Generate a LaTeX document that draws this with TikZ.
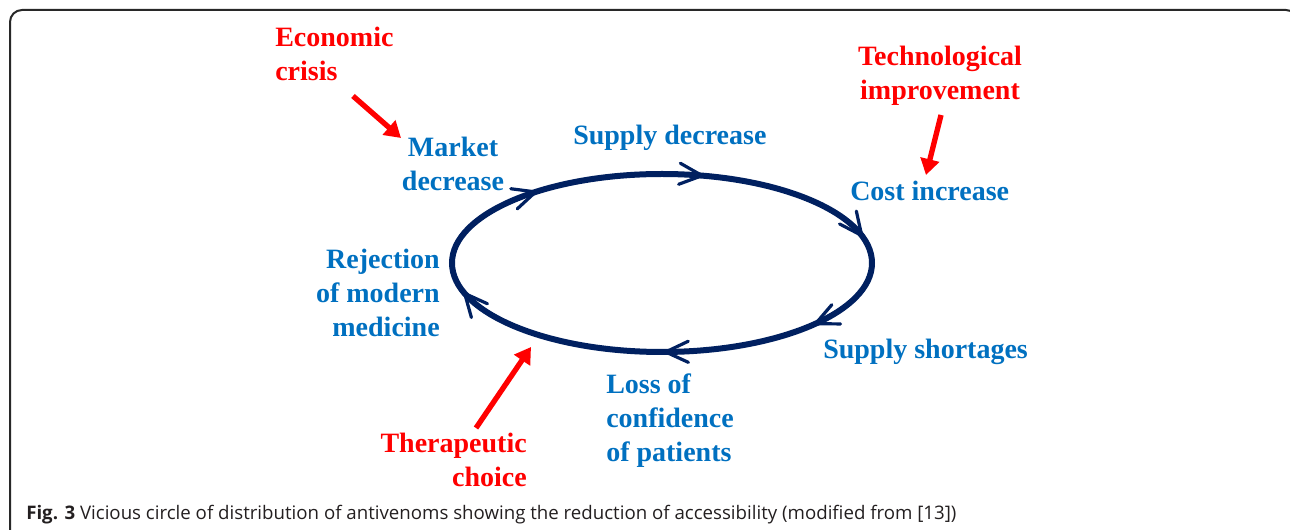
\documentclass[tikz,border=0pt]{standalone}
\usepackage{fontspec}
\setmainfont{Liberation Serif}
\newfontfamily\capfont{Open Sans}
\usetikzlibrary{arrows.meta,calc}
\definecolor{tblue}{RGB}{0,112,192}
\definecolor{tred}{RGB}{255,0,0}
\definecolor{navy}{RGB}{0,32,96}
\definecolor{frame}{RGB}{40,40,40}
\definecolor{captxt}{RGB}{35,31,32}
\tikzset{
  lbl/.style={inner sep=0pt, font=\bfseries\fontsize{21pt}{25.5pt}\selectfont},
  bluelbl/.style={lbl, text=tblue},
  redlbl/.style={lbl, text=tred},
  cause/.style={draw=tred, line width=4pt, -{Triangle[length=12pt,width=14pt]}},
  loopline/.style={draw=navy, line width=4.5pt},
  chev/.style={draw=navy, line width=2.4pt, line cap=round, line join=miter},
}
\newcommand{\chevat}[2]{%
  \path (E) ++({210*cos(#1)},{89*sin(#1)}) coordinate (#2);
  \pgfmathsetmacro{\dd}{atan2(-89*cos(#1),210*sin(#1))}
  \draw[chev] ($(#2)+(\dd+155:25)$) -- (#2) -- ($(#2)+(\dd-155:25)$);}
\begin{document}
\begin{tikzpicture}[x=0.75pt,y=-0.75pt]
\useasboundingbox (0,0) rectangle (1290,530);
% frame
\draw[frame, line width=1.5pt, rounded corners=9pt] (10,540) -- (10,10) -- (1298,10) -- (1298,540);
% caption
\node[anchor=base west, inner sep=0pt, text=captxt, font=\capfont\fontsize{14pt}{17pt}\selectfont] (cap) at (26,520)
  {\textbf{Fig. 3} Vicious circle of distribution of antivenoms showing the reduction of accessibility (modified from [13])};
% cycle
\begin{scope}[y=0.75pt]
\coordinate (E) at (662,-263);
\draw[loopline] (E) ellipse[x radius=210, y radius=89];
\chevat{127}{c1}
\chevat{79}{c2}
\chevat{18}{c3}
\chevat{-43}{c4}
\chevat{-89}{c5}
\chevat{-160}{c6}
\end{scope}
% labels
\node[redlbl, anchor=base west, align=left] (econ) at (275,81) {Economic\\crisis};
\node[redlbl, anchor=base, align=center] (tech) at (940,100) {Technological\\improvement};
\node[redlbl, anchor=base east, align=right] (ther) at (527,487) {Therapeutic\\choice};
\node[bluelbl, anchor=base, align=center] (market) at (453,191) {Market\\decrease};
\node[bluelbl, anchor=base west] (supdec) at (573,145) {Supply decrease};
\node[bluelbl, anchor=base west] (cost) at (850,201) {Cost increase};
\node[bluelbl, anchor=base west] (supshort) at (823,359) {Supply shortages};
\node[bluelbl, anchor=base west, align=left] (loss) at (606,462) {Loss of\\confidence\\of patients};
\node[bluelbl, anchor=base east, align=right] (rej) at (440,337) {Rejection\\of modern\\medicine};
% cause arrows
\coordinate (econS) at (353,96);
\coordinate (econE) at (401,138);
\coordinate (techS) at (941,115);
\coordinate (techE) at (926,175);
\coordinate (therS) at (476,428);
\coordinate (therE) at (531,347);
\draw[cause] (econS) -- (econE);
\draw[cause] (techS) -- (techE);
\draw[cause] (therS) -- (therE);
\end{tikzpicture}
\end{document}
